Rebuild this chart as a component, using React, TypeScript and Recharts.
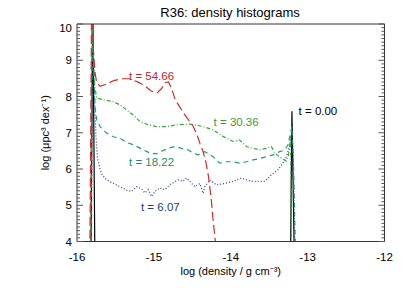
import React from "react";
import { LineChart, Line, XAxis, YAxis, ReferenceDot, Label } from "recharts";

const FONT = "'Liberation Sans', Arial, Helvetica, sans-serif";

// x: log(density / g cm^-3), y: log(mu pc^3 dex^-1)
const t000: [number, number][] = [
  [-15.82, 3.0], [-15.795, 10.6], [-15.765, 3.0],
  [-13.225, 3.0], [-13.204, 7.59], [-13.169, 3.0],
];

const t607: [number, number][] = [
  [-15.815, 3.0], [-15.795, 10.3], [-15.773, 8.0], [-15.753, 6.9], [-15.734, 6.3],
  [-15.70, 6.0], [-15.675, 5.85], [-15.623, 5.72], [-15.571, 5.65], [-15.506, 5.58],
  [-15.442, 5.51], [-15.355, 5.42], [-15.29, 5.38], [-15.225, 5.51], [-15.16, 5.45],
  [-15.117, 5.34], [-15.074, 5.43], [-15.03, 5.24], [-14.987, 5.38], [-14.922, 5.48],
  [-14.857, 5.43], [-14.792, 5.57], [-14.749, 5.62], [-14.684, 5.7], [-14.619, 5.66],
  [-14.575, 5.75], [-14.532, 5.66], [-14.468, 5.51], [-14.403, 5.6], [-14.36, 5.33],
  [-14.338, 5.51], [-14.273, 5.7], [-14.186, 5.56], [-14.056, 5.61], [-13.97, 5.66],
  [-13.861, 5.75], [-13.796, 5.7], [-13.71, 5.66], [-13.623, 5.66], [-13.558, 5.66],
  [-13.471, 5.84], [-13.386, 5.98], [-13.321, 6.16], [-13.277, 6.34], [-13.234, 6.62],
  [-13.204, 7.08], [-13.19, 6.5], [-13.16, 3.0],
];

const t1822: [number, number][] = [
  [-15.825, 3.0], [-15.80, 10.2], [-15.785, 9.0], [-15.775, 8.4], [-15.766, 7.72],
  [-15.744, 7.36], [-15.70, 7.17], [-15.614, 6.99], [-15.529, 6.89], [-15.442, 6.85],
  [-15.355, 6.73], [-15.269, 6.67], [-15.139, 6.53], [-15.052, 6.44], [-14.965, 6.42],
  [-14.90, 6.49], [-14.814, 6.57], [-14.727, 6.62], [-14.64, 6.57], [-14.554, 6.53],
  [-14.489, 6.44], [-14.425, 6.39], [-14.338, 6.48], [-14.23, 6.34], [-14.143, 6.16],
  [-14.056, 6.2], [-13.97, 6.2], [-13.883, 6.16], [-13.796, 6.2], [-13.71, 6.25],
  [-13.623, 6.29], [-13.536, 6.34], [-13.45, 6.39], [-13.364, 6.48], [-13.299, 6.52],
  [-13.256, 6.66], [-13.204, 7.17], [-13.182, 6.0], [-13.15, 3.0],
];

const t3036: [number, number][] = [
  [-15.825, 3.0], [-15.805, 10.3], [-15.785, 9.0], [-15.77, 8.3], [-15.744, 7.96],
  [-15.658, 7.91], [-15.529, 7.86], [-15.442, 7.77], [-15.355, 7.63], [-15.269, 7.49],
  [-15.182, 7.31], [-15.074, 7.22], [-14.965, 7.17], [-14.835, 7.17], [-14.705, 7.22],
  [-14.532, 7.24], [-14.425, 7.2], [-14.36, 7.17], [-14.23, 7.08], [-14.10, 6.9],
  [-13.97, 6.76], [-13.883, 6.8], [-13.796, 6.62], [-13.71, 6.57], [-13.623, 6.53],
  [-13.536, 6.57], [-13.471, 6.62], [-13.429, 6.44], [-13.342, 6.3], [-13.277, 6.22],
  [-13.247, 6.4], [-13.22, 6.9], [-13.21, 3.0],
];

const t5466: [number, number][] = [
  [-15.835, 3.0], [-15.81, 10.5], [-15.785, 9.2], [-15.765, 8.65], [-15.745, 8.4],
  [-15.70, 8.28], [-15.62, 8.34], [-15.52, 8.44], [-15.42, 8.49], [-15.32, 8.49],
  [-15.22, 8.41], [-15.12, 8.30], [-15.04, 8.16], [-14.96, 8.09], [-14.90, 8.22],
  [-14.85, 8.38], [-14.81, 8.40], [-14.77, 8.22], [-14.72, 7.9], [-14.66, 7.7],
  [-14.60, 7.5], [-14.54, 7.33], [-14.49, 7.18], [-14.44, 6.95], [-14.40, 6.7],
  [-14.36, 6.48], [-14.325, 6.2], [-14.29, 5.8], [-14.255, 5.2], [-14.23, 4.6],
  [-14.20, 4.0], [-14.18, 3.5],
];

const seriesLabels = ["t = 0.00", "t = 6.07", "t = 18.22", "t = 30.36", "t = 54.66"];
const labelX = [-12.866, -14.916, -15.03, -13.93, -15.03];
const labelY = [7.59, 4.96, 6.19, 7.3, 8.57];

const xMajor = [-16, -15, -14, -13, -12];
const yMajor = [4, 5, 6, 7, 8, 9, 10];
const xMinor = Array.from({ length: 41 }, (_, i) => Math.round((-16 + i * 0.1) * 10) / 10);
const yMinor = Array.from({ length: 61 }, (_, i) => Math.round((4 + i * 0.1) * 10) / 10);

const RED = "#d42a2a";
const GREEN = "#3aa83a";
const TEAL = "#1c9c7c";
const NAVY = "#2a4a8c";
const BLACK = "#000000";

const colors = [BLACK, NAVY, TEAL, GREEN, RED];
const textColors = [BLACK, "#1f3c7a", "#189070", "#34a034", "#cc2222"];

const rows = (pts: [number, number][]) => pts.map(([x, y]) => ({ x, y }));

const FRAME = "#333";
const TICK = "#555";

const YTick = (props: any) => {
  const { x, y, payload } = props;
  const dy = payload.value === 10 ? 4 : 0;
  return (
    <text x={x} y={y + dy} dy="0.355em" textAnchor="end" fontSize={11.5} fill="#000" fontFamily={FONT}>
      {payload.value}
    </text>
  );
};

const EdgeTick = (props: any) => {
  const { x, y, payload, side } = props;
  const v = payload.value;
  const major = Math.abs(v - Math.round(v)) < 1e-6;
  const len = major ? 6 : 3;
  let x2 = x;
  let y2 = y;
  if (side === "bottom") y2 = y - len;
  else if (side === "top") y2 = y + len;
  else if (side === "left") x2 = x + len;
  else x2 = x - len;
  return <line x1={x} y1={y} x2={x2} y2={y2} stroke={TICK} strokeWidth={1} />;
};

export default function App() {
  return (
    <div style={{ position: "relative", margin: -8, width: 407, height: 291, fontFamily: FONT, background: "#fff" }}>
      <div
        style={{
          position: "absolute",
          left: 80,
          width: 300,
          top: 5.5,
          textAlign: "center",
          fontSize: 13,
          lineHeight: "13px",
          color: "#000",
        }}
      >
        R36: density histograms
      </div>
      <LineChart
        width={407}
        height={291}
        margin={{ top: 24, right: 22.5, bottom: 9.5, left: 37 }}
        style={{ fontFamily: FONT }}
      >
        <XAxis
          xAxisId={0}
          dataKey="x"
          type="number"
          domain={[-16, -12]}
          allowDataOverflow
          ticks={xMajor}
          interval={0}
          height={40}
          tickLine={false}
          tickSize={0}
          tickMargin={11.5}
          axisLine={{ stroke: FRAME }}
          tick={{ fontSize: 11.5, fill: "#000" }}
        >
          <Label value="log (density / g cm⁻³)" position="insideBottom" offset={6.5} style={{ fontSize: 11, fill: "#000" }} />
        </XAxis>
        <XAxis xAxisId="bTicks" type="number" domain={[-16, -12]} allowDataOverflow ticks={xMinor} interval={0} orientation="bottom" mirror height={1} tickLine={false} tickSize={0} tickMargin={0} axisLine={false} tick={<EdgeTick side="bottom" />} />
        <XAxis xAxisId="tTicks" type="number" domain={[-16, -12]} allowDataOverflow ticks={xMinor} interval={0} orientation="top" mirror height={1} tickLine={false} tickSize={0} tickMargin={0} axisLine={{ stroke: FRAME }} tick={<EdgeTick side="top" />} />

        <YAxis
          yAxisId={0}
          type="number"
          domain={[4, 10]}
          allowDataOverflow
          ticks={yMajor}
          interval={0}
          width={40}
          tickLine={false}
          tickSize={0}
          tickMargin={5}
          axisLine={{ stroke: FRAME }}
          tick={<YTick />}
        >
          <Label
            value="log (μpc³ dex⁻¹)"
            angle={-90}
            position="insideLeft"
            offset={8}
            style={{ fontSize: 11, fill: "#000", textAnchor: "middle" }}
          />
        </YAxis>
        <YAxis yAxisId="lTicks" type="number" domain={[4, 10]} allowDataOverflow ticks={yMinor} interval={0} orientation="left" mirror width={1} tickLine={false} tickSize={0} tickMargin={0} axisLine={false} tick={<EdgeTick side="left" />} />
        <YAxis yAxisId="rTicks" type="number" domain={[4, 10]} allowDataOverflow ticks={yMinor} interval={0} orientation="right" mirror width={1} tickLine={false} tickSize={0} tickMargin={0} axisLine={{ stroke: FRAME }} tick={<EdgeTick side="right" />} />

        <Line data={rows(t000)} dataKey="y" type="linear" stroke={colors[0]} strokeWidth={1.2} dot={false} activeDot={false} isAnimationActive={false} />
        <Line data={rows(t607)} dataKey="y" type="linear" stroke={colors[1]} strokeWidth={1.3} strokeDasharray="1 2" dot={false} activeDot={false} isAnimationActive={false} />
        <Line data={rows(t1822)} dataKey="y" type="linear" stroke={colors[2]} strokeWidth={1.2} strokeDasharray="5 4" dot={false} activeDot={false} isAnimationActive={false} />
        <Line data={rows(t3036)} dataKey="y" type="linear" stroke={colors[3]} strokeWidth={1.2} strokeDasharray="4 2 1 2" dot={false} activeDot={false} isAnimationActive={false} />
        <Line data={rows(t5466)} dataKey="y" type="linear" stroke={colors[4]} strokeWidth={1.2} strokeDasharray="9 4" dot={false} activeDot={false} isAnimationActive={false} />

        {seriesLabels.map((s, i) => (
          <ReferenceDot
            key={s}
            x={labelX[i]}
            y={labelY[i]}
            r={0}
            fill="none"
            stroke="none"
            label={{ value: s, position: "center", fill: textColors[i], fontSize: 11.5, fontFamily: FONT }}
          />
        ))}
      </LineChart>
    </div>
  );
}
